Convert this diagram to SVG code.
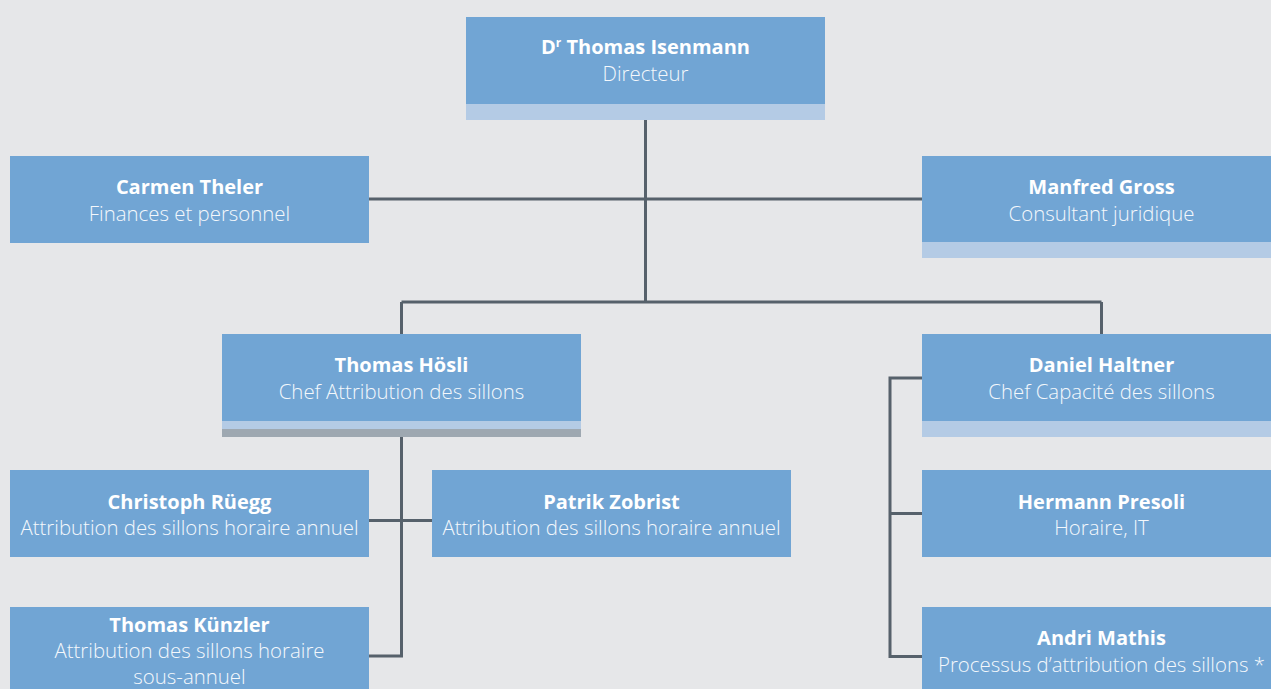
<svg xmlns="http://www.w3.org/2000/svg" width="1271" height="689" viewBox="0 0 1271 689">
<style>
.bg{fill:#e6e7e9}
.box{fill:#71a5d4}
.lt{fill:#b4cbe5}
.gr{fill:#9ea8b1}
.n{font-family:"Open Sans","Liberation Sans",sans-serif;font-weight:700;font-size:20px;fill:#ffffff;text-anchor:middle}
.s{font-family:"Open Sans","Liberation Sans",sans-serif;font-weight:300;font-size:20.4px;fill:#f4f8fc;text-anchor:middle}
.c{fill:none;stroke:#56616b;stroke-width:3}
</style>
<rect class="bg" x="0" y="0" width="1271" height="689"/>
<g id="connectors">
<path class="c" d="M645.5 120 V302 M401.5 302 H1101.5 M401.5 302 V334 M1101.5 302 V334 M369 199 H922"/>
<path class="c" d="M401.5 437 V656 H369 M369 520.5 H432"/>
<path class="c" d="M922 378 H890 V656.5 H922 M890 513.5 H922"/>
</g>
<g id="isenmann">
<rect class="box" x="466" y="17" width="359" height="87"/>
<rect class="lt" x="466" y="104" width="359" height="16"/>
<text class="n" x="645.5" y="54">D<tspan font-size="12" dy="-7">r</tspan><tspan dy="7"> Thomas Isenmann</tspan></text>
<text class="s" x="645.5" y="81">Directeur</text>
</g>
<g id="theler">
<rect class="box" x="10" y="156" width="359" height="87"/>
<text class="n" x="189.5" y="194">Carmen Theler</text>
<text class="s" x="189.5" y="221">Finances et personnel</text>
</g>
<g id="gross">
<rect class="box" x="922" y="156" width="359" height="86"/>
<rect class="lt" x="922" y="242" width="359" height="16"/>
<text class="n" x="1101.5" y="194">Manfred Gross</text>
<text class="s" x="1101.5" y="221">Consultant juridique</text>
</g>
<g id="hoesli">
<rect class="box" x="222" y="334" width="359" height="87"/>
<rect class="lt" x="222" y="421" width="359" height="8"/>
<rect class="gr" x="222" y="429" width="359" height="8"/>
<text class="n" x="401.5" y="372">Thomas Hösli</text>
<text class="s" x="401.5" y="399">Chef Attribution des sillons</text>
</g>
<g id="haltner">
<rect class="box" x="922" y="334" width="359" height="87"/>
<rect class="lt" x="922" y="421" width="359" height="16"/>
<text class="n" x="1101.5" y="372">Daniel Haltner</text>
<text class="s" x="1101.5" y="399">Chef Capacité des sillons</text>
</g>
<g id="rueegg">
<rect class="box" x="10" y="470" width="359" height="87"/>
<text class="n" x="189.5" y="509">Christoph Rüegg</text>
<text class="s" x="189.5" y="535">Attribution des sillons horaire annuel</text>
</g>
<g id="zobrist">
<rect class="box" x="432" y="470" width="359" height="87"/>
<text class="n" x="611.5" y="509">Patrik Zobrist</text>
<text class="s" x="611.5" y="535">Attribution des sillons horaire annuel</text>
</g>
<g id="kuenzler">
<rect class="box" x="10" y="607" width="359" height="90"/>
<text class="n" x="189.5" y="632">Thomas Künzler</text>
<text class="s" x="189.5" y="658">Attribution des sillons horaire</text>
<text class="s" x="189.5" y="684">sous-annuel</text>
</g>
<g id="presoli">
<rect class="box" x="922" y="470" width="359" height="87"/>
<text class="n" x="1101.5" y="509">Hermann Presoli</text>
<text class="s" x="1101.5" y="535">Horaire, IT</text>
</g>
<g id="mathis">
<rect class="box" x="922" y="607" width="359" height="90"/>
<text class="n" x="1101.5" y="645">Andri Mathis</text>
<text class="s" x="1101.5" y="672">Processus d’attribution des sillons *</text>
</g>
</svg>
